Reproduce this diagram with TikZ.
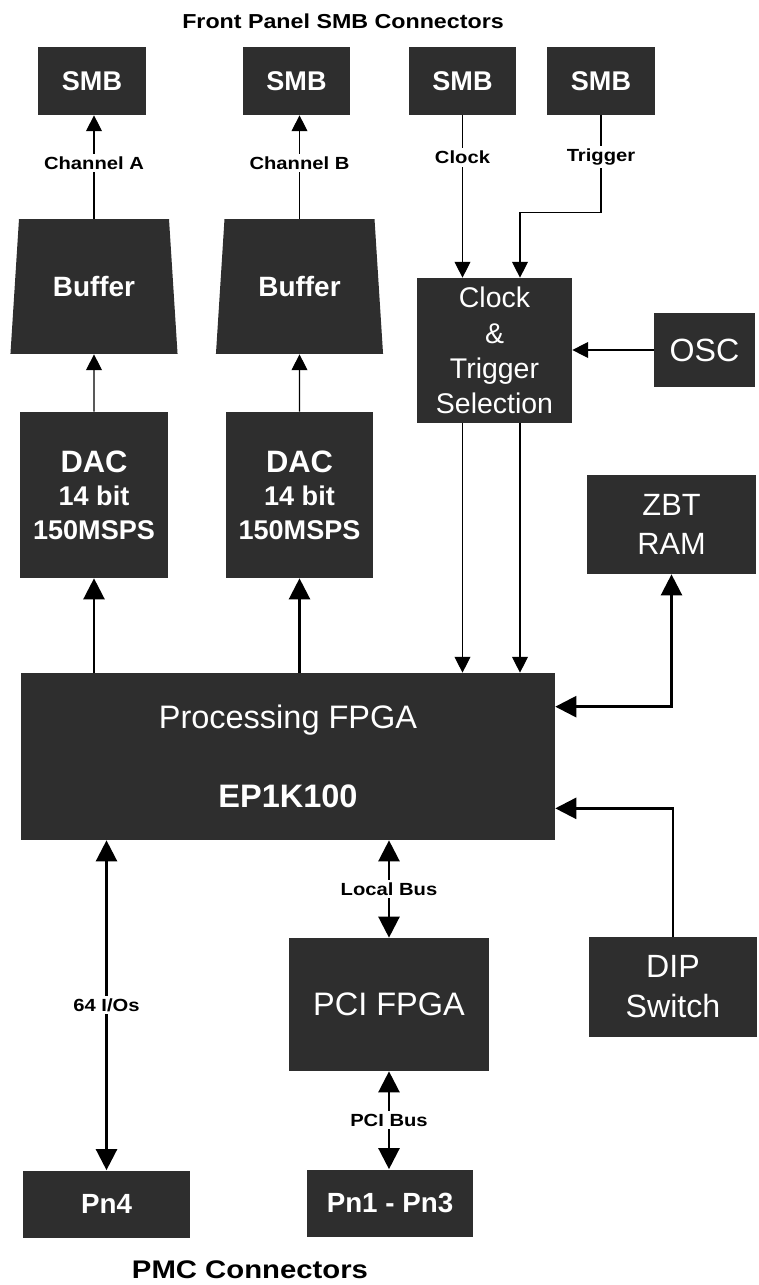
\documentclass[tikz,border=0pt]{standalone}
\usepackage{fontspec}
\setmainfont{Liberation Sans}
\newfontfamily\widesans[FakeStretch=1.15]{Liberation Sans}
\usetikzlibrary{positioning,arrows.meta,shapes.geometric}

\begin{document}
\begin{tikzpicture}[
          x=0.02cm, y=-0.02cm,
          blk/.style={draw=none, fill=black!82, text=white, inner sep=1pt, align=center},
          lbl/.style={font=\widesans\fontsize{10}{12}\selectfont\bfseries, fill=white, inner sep=1.5pt},
          hdr/.style={font=\widesans\fontsize{11.5}{14}\selectfont\bfseries},
          thinar/.style={line width=0.6pt, -{Triangle[length=9pt,width=9pt]}},
          thickar/.style={line width=1.4pt, -{Triangle[length=12pt,width=12pt]}},
          dblar/.style={line width=1.4pt, {Triangle[length=12pt,width=12pt]}-{Triangle[length=12pt,width=12pt]}},
          smb/.style={blk, minimum width=2.16cm, minimum height=1.36cm, font=\fontsize{15.4}{18}\selectfont\bfseries},
          buf/.style={blk, trapezium, trapezium left angle=78.5, trapezium right angle=78.5,
                      trapezium stretches=true, minimum width=3.36cm, minimum height=2.7cm,
                      font=\fontsize{15.9}{18}\selectfont\bfseries},
          dac/.style={blk, minimum width=2.96cm, minimum height=3.32cm, font=\fontsize{15.4}{19}\selectfont\bfseries},
          pmc/.style={blk, minimum width=3.33cm, minimum height=1.34cm, font=\fontsize{15.8}{18}\selectfont\bfseries}
      ]
        \useasboundingbox (0,0) rectangle (759,1285);
        % front panel connectors
        \node[hdr] (ttlfront) at (343,21) {Front Panel SMB Connectors};
        \node[smb] (smbA) at (92,81) {SMB};
        \node[smb] (smbB) at (296.5,81) {SMB};
        \node[smb] (smbC) at (462.5,81) {SMB};
        \node[smb] (smbD) at (601,81) {SMB};
        \node[buf] (bufA) at (94,286.5) {Buffer};
        \node[buf] (bufB) at (299.5,286.5) {Buffer};
        \node[dac] (dacA) at (94,495) {{\fontsize{17.6}{19}\selectfont DAC}\\14 bit\\150MSPS};
        \node[dac] (dacB) at (299.5,495) {{\fontsize{17.6}{19}\selectfont DAC}\\14 bit\\150MSPS};
        \node[blk, minimum width=3.1cm, minimum height=2.9cm, font=\fontsize{16.2}{20}\selectfont]
             (cts) at (494.5,350.5) {Clock\\\&\\Trigger\\Selection};
        \node[blk, minimum width=2.02cm, minimum height=1.48cm, font=\fontsize{18.3}{22}\selectfont]
             (osc) at (704.5,350) {OSC};
        \node[blk, minimum width=3.38cm, minimum height=1.98cm, font=\fontsize{17.5}{22}\selectfont]
             (zbt) at (671.5,524.5) {ZBT\\RAM};
        \node[blk, minimum width=10.68cm, minimum height=3.34cm, font=\fontsize{18.5}{22}\selectfont]
             (fpga) at (288,756.5) {Processing FPGA\\[23pt]{\bfseries EP1K100}};
        \node[blk, minimum width=3.36cm, minimum height=2cm, font=\fontsize{18.3}{22.8}\selectfont]
             (dip) at (673,987) {DIP\\Switch};
        \node[blk, minimum width=4cm, minimum height=2.66cm, font=\fontsize{18.5}{22}\selectfont]
             (pci) at (389,1004.5) {PCI FPGA};
        % PMC connectors
        \node[pmc] (pn4) at (106.5,1204) {Pn4};
        \node[pmc] (pn13) at (390,1203) {Pn1 - Pn3};
        \node[font=\widesans\fontsize{14.5}{17}\selectfont\bfseries] (ttlpmc) at (250,1270) {PMC Connectors};

        \draw[thinar] (dacA.north) -- (bufA.south);
        \draw[thinar] (dacB.north) -- (bufB.south);
        \draw[thinar] (bufA.north) -- node[lbl, pos=0.54] {Channel A} (bufA.north |- smbA.south);
        \draw[thinar] (bufB.north) -- node[lbl, pos=0.54] {Channel B} (bufB.north |- smbB.south);
        \draw[thickar] (dacA.south |- fpga.north) -- (dacA.south);
        \draw[thickar] (dacB.south |- fpga.north) -- (dacB.south);
        \draw[thinar] (smbC.south) -- node[lbl, pos=0.26] {Clock} (smbC.south |- cts.north);
        \draw[thinar] (smbD.south) -- node[lbl, pos=0.43] {Trigger} ++(0,97) -| ([xshift=0.51cm]cts.north);
        \draw[thinar] (osc.west) -- (cts.east |- osc.west);
        \draw[thinar] (smbC.south |- cts.south) -- (smbC.south |- fpga.north);
        \draw[thinar] ([xshift=0.51cm]cts.south) -- ([xshift=0.51cm]cts.south |- fpga.north);
        \draw[dblar] (zbt.south) |- ([yshift=-0.68cm]fpga.north east);
        \draw[thickar] (dip.north) |- ([yshift=0.64cm]fpga.south east);
        \draw[dblar] (pn4.north |- fpga.south) -- node[lbl] {64 I/Os} (pn4.north);
        \draw[dblar] (pci.north |- fpga.south) -- node[lbl] {Local Bus} (pci.north);
        \draw[dblar] (pci.south) -- node[lbl] {PCI Bus} (pci.south |- pn13.north);
      \end{tikzpicture}
\end{document}
